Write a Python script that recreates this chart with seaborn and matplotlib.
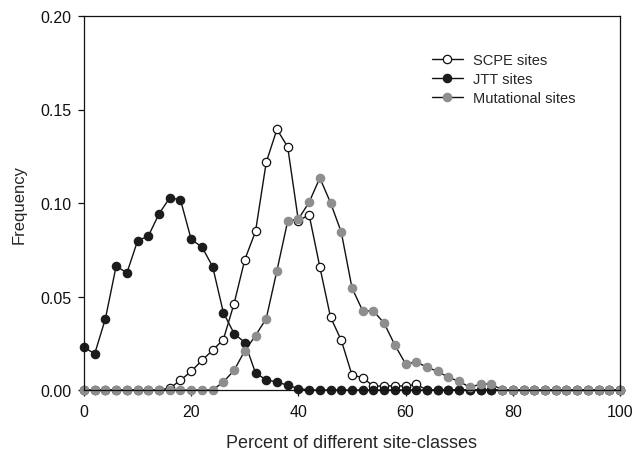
import matplotlib
matplotlib.use("Agg")
import matplotlib.pyplot as plt
from matplotlib.ticker import FormatStrFormatter
import seaborn as sns
import numpy as np

# percent of different site-classes (x grid, every 2 %)
percent = np.arange(0, 101, 2)

scpe_sites = [
    0, 0, 0, 0, 0, 0, 0, 0,
    0.0010, 0.0052, 0.0100, 0.0158, 0.0213, 0.0270, 0.0462, 0.0697,
    0.0848, 0.1218, 0.1394, 0.1300, 0.0905, 0.0937, 0.0658, 0.0389,
    0.0266, 0.0080, 0.0066, 0.0020, 0.0022, 0.0022, 0.0022, 0.0030,
    0, 0, 0, 0, 0, 0, 0, 0, 0, 0, 0, 0, 0, 0, 0, 0, 0, 0, 0,
]

jtt_sites = [
    0.0228, 0.0194, 0.0382, 0.0663, 0.0626, 0.0798, 0.0823, 0.0942,
    0.1028, 0.1017, 0.0805, 0.0765, 0.0660, 0.0414, 0.0302, 0.0254,
    0.0091, 0.0054, 0.0043, 0.0025, 0.0008,
    0, 0, 0, 0, 0, 0, 0, 0, 0, 0, 0, 0, 0, 0, 0,
    0, 0, 0, 0, 0, 0, 0, 0, 0, 0, 0, 0, 0, 0, 0,
]

mutational_sites = [
    0, 0, 0, 0, 0, 0, 0, 0, 0, 0, 0, 0, 0,
    0.0043, 0.0105, 0.0210, 0.0291, 0.0382, 0.0639, 0.0903, 0.0914,
    0.1004, 0.1134, 0.1001, 0.0844, 0.0546, 0.0423, 0.0423, 0.0357,
    0.0240, 0.0140, 0.0150, 0.0122, 0.0099, 0.0068, 0.0046, 0.0014,
    0.0032, 0.0032,
    0, 0, 0, 0, 0, 0, 0, 0, 0, 0, 0, 0,
]

x_ticks = [0, 20, 40, 60, 80, 100]
y_ticks = [0.00, 0.05, 0.10, 0.15, 0.20]

sns.set_style("ticks")
plt.rcParams['font.family'] = ['Liberation Sans', 'DejaVu Sans']

fig = plt.figure(figsize=(6.34, 4.52), dpi=100)
ax = fig.add_axes([84 / 634, 61 / 452, 536 / 634, 374 / 452])

series = [
    ("SCPE sites", scpe_sites, "white", "#111111"),
    ("JTT sites", jtt_sites, "#1c1c1c", "#1c1c1c"),
    ("Mutational sites", mutational_sites, "#8e8e8e", "#8e8e8e"),
]
for label, vals, fc, ec in series:
    sns.lineplot(x=percent, y=vals, ax=ax, color="#111111", lw=1.0,
                 marker="o", markersize=6, markerfacecolor=fc,
                 markeredgecolor=ec, markeredgewidth=0.9,
                 label=label, clip_on=False)

ax.set_xlim(0, 100)
ax.set_ylim(0, 0.20)
ax.set_xticks(x_ticks)
ax.set_yticks(y_ticks)
ax.yaxis.set_major_formatter(FormatStrFormatter('%.2f'))

for side in ['top', 'right', 'left', 'bottom']:
    ax.spines[side].set_visible(True)
    ax.spines[side].set_color('#111111')
    ax.spines[side].set_linewidth(0.9)
ax.tick_params(axis='both', direction='out', length=4, width=0.9,
               labelsize=11.5, colors='#111111', top=False, right=False)
ax.tick_params(axis='y', pad=5)
ax.tick_params(axis='x', pad=6)

ax.set_xlabel("Percent of different site-classes", fontsize=13, labelpad=11)
ax.set_ylabel("Frequency", fontsize=12, labelpad=10)

ax.legend(loc='upper left', bbox_to_anchor=(432 / 634, 1 - 54 / 452),
          bbox_transform=fig.transFigure, frameon=False, fontsize=10.5,
          borderpad=0, borderaxespad=0, handlelength=2.1,
          handletextpad=0.7, labelspacing=0.35)

fig.savefig("out.png", dpi=100, facecolor="white")
